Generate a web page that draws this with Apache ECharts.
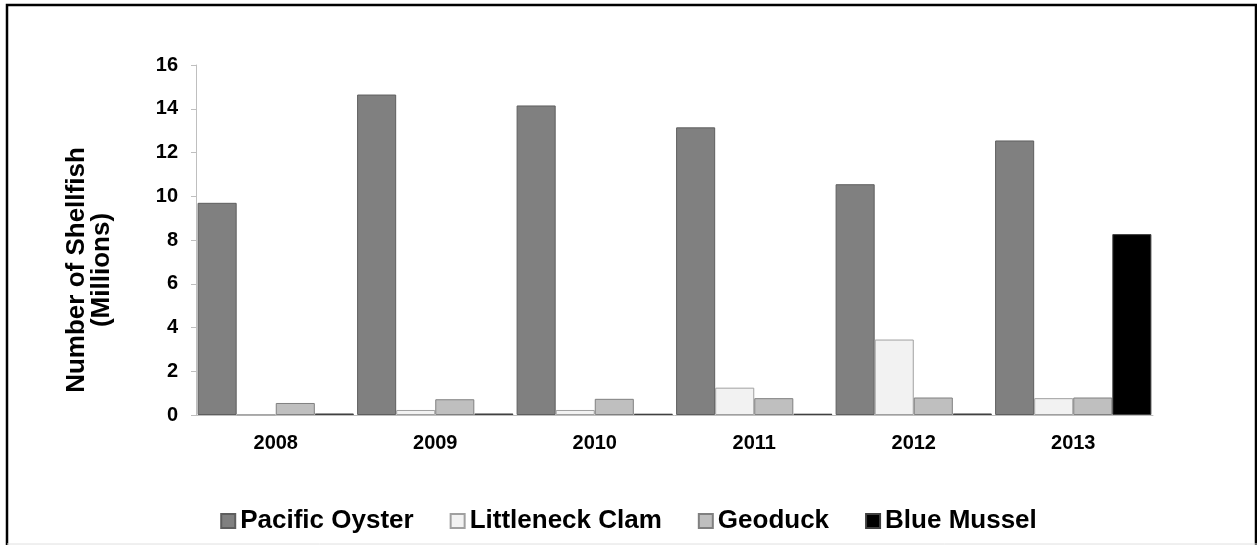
<!DOCTYPE html>
<html>
<head>
<meta charset="utf-8">
<script src="https://cdn.jsdelivr.net/npm/echarts@6/dist/echarts.min.js"></script>
<style>
  html, body { margin: 0; padding: 0; background: #fff; }
  #chart { width: 1257px; height: 545px; }
</style>
</head>
<body>
<div id="chart"></div>
<script>
const years = ['2008', '2009', '2010', '2011', '2012', '2013']
const pacificOyster = [9.7, 14.65, 14.15, 13.15, 10.55, 12.55]
const littleneckClam = [0.02, 0.23, 0.23, 1.25, 3.45, 0.77]
const geoduck = [0.55, 0.72, 0.74, 0.77, 0.8, 0.8]
const blueMussel = [0.07, 0.07, 0.06, 0.06, 0.07, 8.27]

let chart = echarts.init(document.getElementById('chart'))

function bar(name, data, color, border) {
  return {
    name: name,
    type: 'bar',
    data: data,
    barGap: '0%',
    barCategoryGap: '2%',
    itemStyle: { color: color, borderColor: border, borderWidth: 1 }
  }
}

chart.setOption({
  animation: false,
  textStyle: { fontFamily: 'Liberation Sans, Arial, sans-serif' },
  grid: { left: 196, right: 104, top: 65, bottom: 130 },
  graphic: [
    {
      type: 'rect',
      shape: { x: 7, y: 5, width: 1249, height: 600 },
      style: { fill: 'none', stroke: '#000', lineWidth: 2.5 }
    },
    {
      type: 'line',
      shape: { x1: 7, y1: 544, x2: 1257, y2: 544 },
      style: { stroke: '#e0e0e0', lineWidth: 1 }
    }
  ],
  legend: {
    bottom: 6,
    left: 'center',
    icon: 'rect',
    itemWidth: 14,
    itemHeight: 14,
    itemGap: 36,
    textStyle: { fontSize: 26, fontWeight: 'bold', color: '#000' },
    data: ['Pacific Oyster', 'Littleneck Clam', 'Geoduck', 'Blue Mussel']
  },
  xAxis: {
    type: 'category',
    data: years,
    axisLine: { lineStyle: { color: '#bfbfbf' } },
    axisTick: { length: 5, lineStyle: { color: '#bfbfbf' } },
    axisLabel: { fontSize: 20, fontWeight: 'bold', color: '#000', margin: 18 }
  },
  yAxis: {
    type: 'value',
    min: 0,
    max: 16,
    interval: 2,
    name: 'Number of Shellfish\n(Millions)',
    nameLocation: 'middle',
    nameGap: 82,
    nameTextStyle: {
      fontSize: 26, fontWeight: 'bold', color: '#000', lineHeight: 25,
      padding: [0, 60, 0, 0]
    },
    axisLine: { show: true, lineStyle: { color: '#bfbfbf' } },
    axisTick: { show: true, length: 5, lineStyle: { color: '#bfbfbf' } },
    splitLine: { show: false },
    axisLabel: { fontSize: 20, fontWeight: 'bold', color: '#000', margin: 18 }
  },
  series: [
    bar('Pacific Oyster', pacificOyster, '#808080', '#5e5e5e'),
    bar('Littleneck Clam', littleneckClam, '#f2f2f2', '#a0a0a0'),
    bar('Geoduck', geoduck, '#bfbfbf', '#808080'),
    bar('Blue Mussel', blueMussel, '#000000', '#404040')
  ]
})
</script>
</body>
</html>
